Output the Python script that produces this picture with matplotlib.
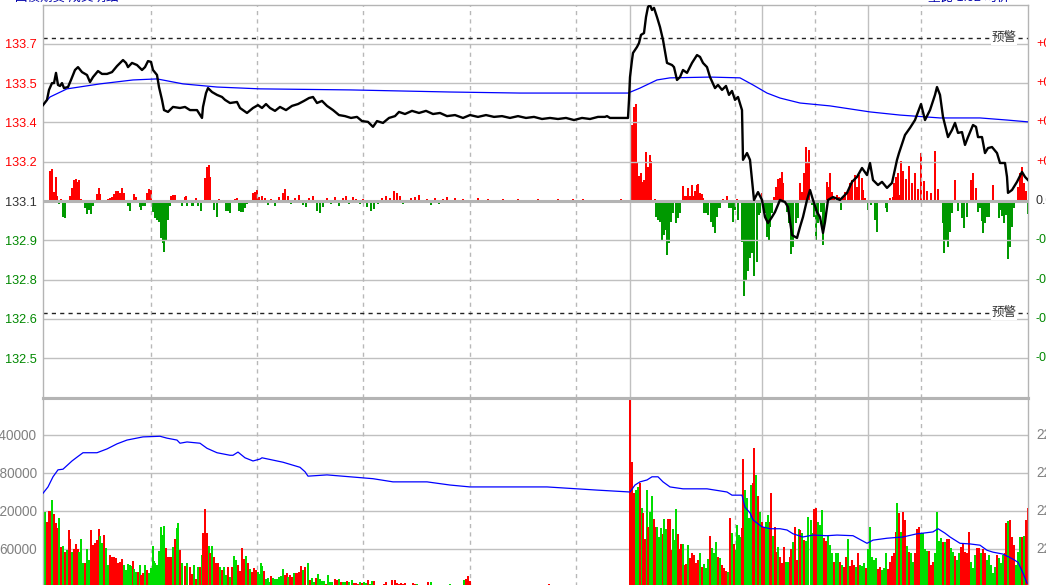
import matplotlib
matplotlib.use('Agg')
import matplotlib.pyplot as plt
from matplotlib.transforms import blended_transform_factory

plt.rcParams['font.family'] = ['Liberation Sans', 'Noto Sans CJK SC', 'DejaVu Sans']

W, H = 1046, 585
base = 133.1
step = 0.15

# price line (minute index, price)
price_t = [0, 4, 6, 9, 11, 13, 15, 17, 19, 21, 25, 28, 32, 35, 39, 44, 47, 50, 55, 59, 64, 69, 74, 80, 83,
           85, 89, 94, 99, 102, 105, 108, 110, 114, 116, 119, 121, 125, 130, 137, 142, 147, 154, 159, 160,
           163, 165, 169, 174, 179, 182, 187, 194, 197, 204, 210, 215,
           219, 223, 227, 232, 237, 243, 249, 255, 261, 266, 270, 274, 279, 284, 290, 296, 302, 308, 314,
           319, 325, 330, 334, 340, 346, 352, 356, 362, 369, 376, 383, 390, 397, 404, 412, 420, 427, 435,
           443, 451, 459, 467, 475, 483, 491, 499, 507, 515, 523, 531, 539, 547, 555, 562, 564, 567, 585,
           586, 587, 589, 590, 594, 596, 598, 601, 603, 605, 607, 609, 611, 614, 617, 620, 624, 629, 631,
           634, 637, 640, 644, 649, 654, 657, 660, 664, 667, 672, 675, 679, 683, 686, 689, 692, 695, 699,
           700, 704, 707, 710, 711, 715, 719, 722, 725, 729, 732, 737, 742, 745, 749, 754, 757, 760, 764,
           767, 770, 774, 777, 780, 782, 785, 790, 797, 804, 809, 814, 819, 824, 827, 830, 835, 839, 844,
           849, 854, 856, 862, 867, 872, 878, 882, 887, 892, 894, 897, 900, 905, 909, 912, 915, 919, 922,
           925, 930, 933, 935, 939, 942, 945, 949, 954, 957, 962, 964, 965, 969, 974, 979, 982, 985]
price_v = [133.466, 133.486, 133.524, 133.550, 133.550, 133.589, 133.543, 133.539, 133.550, 133.531,
           133.535, 133.562, 133.600, 133.611, 133.592, 133.581, 133.554, 133.573, 133.596, 133.585,
           133.585, 133.592, 133.615, 133.638, 133.627, 133.611, 133.627, 133.619, 133.600, 133.611,
           133.634, 133.631, 133.600, 133.581, 133.535, 133.486, 133.447, 133.440, 133.459, 133.455,
           133.459, 133.447, 133.447, 133.417, 133.459, 133.512, 133.531, 133.516, 133.505, 133.497,
           133.486, 133.474, 133.478, 133.455, 133.436, 133.455, 133.466,
           133.455, 133.470, 133.455, 133.444, 133.459, 133.447, 133.463, 133.470, 133.482, 133.493,
           133.497, 133.474, 133.482, 133.463, 133.447, 133.428, 133.424, 133.417, 133.421, 133.405,
           133.402, 133.383, 133.405, 133.398, 133.417, 133.424, 133.440, 133.432, 133.444, 133.436,
           133.444, 133.432, 133.436, 133.424, 133.428, 133.417, 133.428, 133.421, 133.428, 133.421,
           133.424, 133.417, 133.424, 133.417, 133.421, 133.413, 133.417, 133.413, 133.417, 133.409,
           133.417, 133.413, 133.421, 133.421, 133.424, 133.417, 133.417,
           133.486, 133.573, 133.638, 133.665, 133.688, 133.703, 133.734, 133.741, 133.802, 133.841,
           133.848, 133.829, 133.837, 133.802, 133.764, 133.715, 133.627, 133.619, 133.611, 133.562,
           133.573, 133.600, 133.589, 133.627, 133.657, 133.650, 133.627, 133.611, 133.573, 133.531,
           133.543, 133.524, 133.539, 133.505, 133.520, 133.486, 133.497, 133.447, 133.257, 133.283,
           133.257, 133.142, 133.104, 133.134, 133.104, 133.039, 133.016, 133.039, 133.058, 133.104,
           133.096, 133.077, 132.970, 132.959, 133.001, 133.039, 133.104, 133.142, 133.104, 133.058,
           133.039, 132.978, 133.020, 133.104, 133.115, 133.104, 133.131, 133.173, 133.192, 133.226,
           133.199, 133.245, 133.180, 133.161, 133.173, 133.150, 133.169, 133.257, 133.283, 133.352,
           133.379, 133.409, 133.470, 133.409, 133.447, 133.505, 133.535, 133.505, 133.421, 133.344,
           133.371, 133.398, 133.360, 133.363, 133.314, 133.344, 133.390, 133.383, 133.344, 133.344,
           133.283, 133.302, 133.306, 133.283, 133.245, 133.245, 133.192, 133.131, 133.142, 133.173,
           133.211, 133.192, 133.180]

# average price
avg_t = [0, 7, 24, 57, 90, 114, 140, 174, 217, 307, 407, 477, 585, 597, 614, 627, 667, 697, 710, 724,
         737, 757, 787, 827, 857, 897, 937, 964, 985]
avg_v = [133.466, 133.497, 133.528, 133.547, 133.562, 133.566, 133.547, 133.535, 133.528, 133.524,
         133.516, 133.512, 133.512, 133.531, 133.562, 133.570, 133.573, 133.570, 133.543, 133.512,
         133.493, 133.474, 133.463, 133.440, 133.428, 133.417, 133.417, 133.409, 133.402]

# net bars in the price pane
diff_t = [7, 9, 11, 13, 14, 16, 18, 20, 22, 24, 26, 27, 29, 31, 33, 35, 36, 38, 40, 42, 44, 46, 48, 50,
          52, 54, 56, 57, 59, 63, 65, 67, 69, 71, 73, 75, 77, 79, 81, 83, 85, 87, 89, 91, 93, 97, 98, 100,
          102, 104, 106, 108, 110, 112, 114, 116, 118, 120, 121, 123, 125, 127, 128, 130, 132, 135, 139,
          142, 143, 144, 147, 149, 150, 153, 155, 158, 160, 162, 164, 166, 167, 169, 171, 174, 176, 178,
          183, 185, 187, 190, 192, 194, 196, 198, 200, 202, 204, 210, 212, 214, 216,
          219, 222, 225, 228, 232, 236, 240, 242, 245, 248, 252, 256, 260, 263, 266, 270, 274, 277, 280,
          284, 288, 292, 296, 300, 303, 306, 310, 313, 317, 320, 324, 328, 331, 335, 339, 343, 347, 351,
          354, 357, 360, 364, 368, 372, 376, 380, 384, 388, 392, 396, 400, 404, 408, 412, 420, 425, 430,
          435, 440, 445, 450, 455, 460, 465, 470, 475, 480, 485, 490, 495, 500, 505, 510, 515, 520, 525,
          530, 535, 540, 545, 550, 555, 559, 565, 572, 578, 584,
          588, 589, 591, 593, 594, 596, 598, 600, 601, 603, 605, 607, 608, 612, 613, 615, 617, 619, 621,
          623, 624, 626, 628, 630, 633, 635, 637, 640, 642, 644, 645, 647, 649, 650, 652, 654, 655, 657,
          659, 660, 661, 663, 665, 668, 670, 672, 674, 676, 677, 680, 684, 686, 688, 690, 692, 694, 695,
          699, 701, 703, 705, 707, 709, 711, 714, 716, 717, 719, 722, 724, 726, 727, 729, 731, 733, 735,
          737, 739, 740, 744, 746, 748, 750, 753, 755, 757, 759, 761, 763, 765, 766, 769, 771, 773, 775,
          778, 780, 781, 784, 785, 787, 789, 791, 794, 796, 798, 800, 802, 805, 807, 809, 812, 814, 816,
          819, 820, 822, 825, 828, 832, 834, 837, 843, 844, 847, 850, 851, 853, 855, 856, 858, 860, 863,
          866, 869, 872, 875, 878, 881, 884, 888, 892, 895, 900, 901, 903, 905, 907, 909, 912, 915, 919,
          921, 924, 928, 930, 933, 935, 937, 939, 940, 942, 944, 946, 950, 956, 957, 959, 961, 963, 965,
          967, 969, 971, 975, 977, 979, 981, 983, 985]
diff_v = [30, 32, 9, 24, 5, -3, 2, -16, -17, -1, -2, 5, 13, 21, 22, 19, 21, 2, -2, -7, -13, -9, -13, -5,
          1, 7, 13, 7, 1, -2, 2, 3, 4, 7, 10, 10, 8, 13, 8, 1, -5, -10, -1, 7, 4, -6, -9, -5,
          -5, 8, 12, 11, -11, -17, -19, -21, -37, -42, -51, -40, -19, -5, 5, 6, 6, -2, -5,
          4, 5, -5, -2, -5, -5, 3, -5, -10, 1, 23, 34, 36, 24, 1, -9, -16, 2, 1,
          -10, -10, -12, 1, 2, 3, -10, -11, -11, -7, -3, 8, 9, 11, 4,
          5, 3, -4, 2, -5, 4, 8, 12, 5, -3, 3, 6, -4, -6, 3, 5, -10, -12, -6,
          3, -3, 4, -5, 3, 5, -3, 4, 2, -3, 2, -6, -10, -8, -3, 3, 5, 3, 10,
          8, 5, -3, -2, 3, 4, 6, -2, 2, -4, 3, -3, 2, 4, -2, 3, 2, -2, 1,
          3, -1, 2, -2, 1, 2, -1, 1, 2, -2, 1, -1, 2, 1, -2, 1, 2, -1, 1, 2,
          -1, 2, 1, -2, 1, 1, 1, -2, 2, -2,
          65, 76, 94, 97, 39, 25, 28, 19, 21, 49, 34, 46, 40, 2, -16, -19, -21, -39, -34,
          -29, -54, -42, -21, -12, -22, -17, -12, 15, 5, 5, 13, 5, 16, 5, 10, 16, 17, 8,
          7, 3, -12, -12, -14, -21, -26, -32, -16, -7, -7, 2, 5, -7, -7, -21, -9, 2, -19,
          -41, -95, -80, -70, -57, -52, -75, -61, -14, -12, 8, -12, -36, -39, -26, -12, 4, 14, 22,
          23, 29, 18, -11, -22, -53, -46, -22, -17, 18, 9, 28, 54, 39, 51, -4, -16, -40, -22,
          -11, -44, -20, 19, 14, 28, 9, 3, 6, 4, -9, 4, 9, 9, 18, 21, 26, 14, 26,
          23, 11, 3, -9, -4, -19, -31, 1, -7, -11, 3, 4, 18, 24, 28, 6, 40, 30, 22,
          35, 18, 28, 12, 48, 20, 10, 8, 50, 12, -22, -52, -39, -46, -31, -12, 21, -10, -17,
          -27, -16, 21, 28, 13, -11, -7, -20, -32, -22, -16, -16, 16, -17, -9, -15, -22, -14, -58,
          -46, -26, -7, 14, 28, 34, 18, 10, -13]

# volume (thousands) and its colour: 1 up (red), 0 down (green)
vol_t = [2, 4, 6, 7, 9, 11, 13, 14, 16, 18, 20, 22, 24, 26, 27, 29, 31, 33, 35, 36, 38, 40, 42, 44, 46,
         48, 50, 52, 54, 56, 57, 59, 61, 63, 65, 67, 69, 71, 73, 75, 77, 79, 81, 83, 85, 87, 89, 90, 91,
         93, 95, 97, 98, 100, 102, 104, 106, 108, 110, 111, 112, 114, 116, 118, 120, 121, 123, 125, 127,
         129, 130, 132, 134, 135, 137, 139, 142, 144, 147, 149, 151, 153, 155, 157, 159, 160, 162, 164,
         166, 167, 169, 171, 173, 175, 177, 179, 181, 183, 185, 187, 189, 191, 193, 195, 197, 199, 201,
         203, 205, 207, 209, 211, 213, 215, 217, 218, 219, 221, 223, 225, 226, 228, 230, 232, 234, 236,
         238, 240, 242, 244, 245, 247, 249, 251, 253, 255, 256, 258, 260, 262, 265, 267, 269, 271, 273,
         275, 277, 279, 281, 283, 285, 287, 289, 292, 294, 296, 298, 300, 302, 304, 306, 309, 311, 313,
         315, 317, 319, 321, 323, 325, 327, 329, 331, 333, 341, 343, 349, 352, 354, 356, 358, 360, 362,
         366, 370, 372, 374, 378, 385, 388, 399, 403, 407, 418, 421, 423, 425, 427, 506,
         587, 589, 591, 593, 595, 597, 599, 600, 602, 604, 605, 607, 609, 611, 613, 614, 616, 618, 620,
         621, 623, 625, 627, 628, 630, 631, 633, 635, 636, 638, 640, 642, 643, 645, 647, 649, 651, 653,
         655, 657, 659, 661, 663, 665, 667, 669, 671, 673, 675, 677, 679, 681, 683, 685, 687, 689, 691,
         693, 694, 696, 698, 699, 700, 702, 704, 706, 708, 710, 711, 713, 715, 717, 719, 721, 723, 725,
         727, 728, 730, 732, 734, 735, 737, 739, 741, 743, 745, 747, 748, 750, 752, 754, 756, 757, 759,
         761, 763, 765, 768, 770, 771, 773, 775, 777, 779, 781, 783, 785, 787, 789, 791, 793, 795, 797,
         799, 801, 803, 805, 807, 809, 811, 813, 815, 817, 819, 821, 823, 825, 827, 829, 831, 833, 835,
         837, 839, 841, 843, 845, 847, 849, 851, 853, 854, 856, 858, 860, 862, 864, 866, 868, 870, 872,
         874, 876, 878, 880, 882, 884, 886, 888, 890, 892, 894, 896, 898, 900, 902, 904, 906, 908, 910,
         912, 914, 916, 918, 920, 922, 924, 926, 928, 930, 932, 934, 936, 938, 940, 942, 944, 946, 948,
         950, 952, 954, 956, 958, 960, 962, 963, 965, 967, 969, 971, 973, 975, 977, 979, 981, 983, 985]
vol_v = [118, 103, 120, 120, 137, 115, 101, 93, 109, 63, 65, 55, 58, 90, 76, 55, 60, 68, 60, 55, 76, 38,
         38, 60, 43, 90, 66, 70, 74, 92, 81, 70, 82, 62, 35, 51, 47, 47, 46, 38, 40, 44, 35, 27, 36, 35,
         33, 41, 28, 24, 24, 35, 19, 22, 35, 27, 22, 30, 65, 41, 38, 35, 57, 95, 82, 96, 62, 47, 47, 47,
         63, 76, 93, 101, 58, 38, 33, 38, 32, 21, 35, 13, 32, 32, 51, 85, 123, 85, 65, 54, 65, 47, 38, 38,
         32, 27, 32, 19, 32, 16, 32, 49, 43, 35, 25, 62, 44, 49, 38, 28, 24, 30, 27, 24, 20, 38, 33, 25,
         13, 14, 8, 17, 14, 13, 13, 16, 17, 28, 19, 22, 16, 19, 16, 22, 22, 22, 24, 33, 27, 32, 38, 11,
         14, 8, 14, 21, 13, 9, 9, 5, 19, 8, 8, 13, 11, 13, 8, 8, 8, 9, 8, 11, 6, 6, 5, 8, 6, 8, 6, 11, 5,
         9, 9, 3, 5, 8, 11, 11, 6, 5, 6, 5, 6, 3, 6, 5, 5, 3, 8, 8, 3, 3, 5, 3, 11, 13, 17, 9, 5,
         297, 197, 148, 153, 158, 164, 125, 117, 76, 153, 95, 118, 144, 107, 95, 95, 79, 93, 84,
         107, 92, 107, 107, 58, 92, 74, 123, 84, 60, 68, 68, 35, 36, 66, 46, 54, 51, 38,
         43, 54, 32, 36, 30, 44, 81, 62, 54, 71, 47, 46, 35, 30, 25, 24, 109, 85, 68,
         58, 98, 82, 79, 93, 202, 153, 141, 109, 161, 164, 219, 177, 144, 118, 103, 95, 103, 114,
         103, 148, 81, 95, 55, 63, 47, 38, 63, 40, 40, 47, 60, 71, 95, 43, 92, 90, 85,
         74, 73, 111, 106, 85, 123, 125, 103, 98, 122, 77, 73, 81, 66, 54, 40, 54, 54, 40,
         35, 32, 47, 76, 33, 43, 35, 32, 54, 35, 33, 38, 30, 60, 95, 47, 43, 46, 28,
         32, 27, 30, 54, 28, 40, 49, 54, 87, 133, 117, 87, 118, 106, 65, 55, 54, 40, 54,
         92, 95, 85, 85, 60, 57, 57, 35, 40, 54, 118, 73, 77, 71, 71, 76, 76, 62, 55,
         49, 43, 54, 63, 69, 55, 54, 87, 40, 30, 51, 62, 62, 54, 60, 54, 43, 51, 35,
         22, 32, 51, 46, 38, 51, 54, 101, 104, 106, 79, 66, 35, 55, 79, 79, 81, 106, 125]
vol_up = [0, 1, 1, 1, 0, 1, 1, 1, 0, 1, 0, 1, 0, 1, 1, 0, 1, 1, 1, 0, 0, 0, 1, 0, 0,
          1, 1, 1, 1, 1, 0, 0, 1, 0, 0, 1, 1, 1, 1, 1, 1, 1, 0, 0, 0, 0, 0, 1, 0,
          0, 1, 0, 1, 1, 0, 1, 0, 0, 0, 0, 0, 0, 0, 0, 0, 0, 1, 1, 1,
          1, 0, 1, 0, 0, 1, 0, 1, 0, 1, 1, 0, 1, 0, 1, 0, 1, 1, 1,
          0, 1, 0, 1, 1, 1, 0, 1, 0, 0, 1, 0, 1, 0, 0, 1, 1, 1, 1,
          0, 1, 0, 1, 1, 1, 0, 0, 0, 0, 1, 0, 0, 0, 1, 0, 0, 0, 0,
          0, 0, 1, 1, 0, 1, 1, 0, 1, 1, 1, 1, 0, 1, 0, 1, 0, 0, 1,
          0, 0, 0, 0, 1, 0, 0, 0, 1, 1, 0, 1, 0, 0, 1, 0, 0, 1,
          1, 1, 0, 1, 0, 0, 1, 0, 0, 1, 1, 1, 1, 1, 1, 1, 1, 1, 1,
          1, 0, 1, 1, 0, 1, 1, 0, 0, 0, 0, 0, 0, 1, 1, 1,
          1, 1, 1, 1, 0, 0, 1, 0, 1, 1, 0, 1, 0, 0, 1, 1, 0, 0, 0,
          1, 0, 0, 1, 1, 1, 0, 0, 0, 1, 1, 1, 0, 1, 1, 0, 1, 1,
          1, 1, 1, 0, 1, 0, 0, 0, 1, 0, 0, 0, 1, 0, 1, 1, 1, 0, 1,
          0, 1, 0, 0, 0, 0, 1, 1, 0, 0, 0, 0, 1, 1, 0, 1, 0, 1, 1,
          0, 0, 1, 1, 0, 1, 1, 0, 1, 1, 1, 0, 0, 1, 1, 0, 1, 1, 0,
          1, 0, 1, 0, 0, 0, 0, 1, 1, 0, 0, 0, 1, 1, 0, 0, 0, 1, 0,
          0, 1, 0, 1, 1, 0, 1, 1, 1, 0, 1, 0, 0, 0, 1, 0, 0, 0, 0,
          0, 1, 1, 0, 0, 0, 1, 1, 1, 1, 1, 0, 1, 0, 1, 1, 0, 1, 0,
          0, 1, 1, 1, 0, 0, 0, 0, 1, 1, 1, 0, 0, 0, 0, 1, 0, 1, 1,
          0, 0, 1, 0, 0, 1, 1, 1, 1, 1, 0, 0, 0, 1, 1, 0, 1, 1, 0,
          0, 0, 0, 0, 1, 0, 0, 0, 1, 1, 0, 1, 1, 1, 0, 0, 0, 1]

# CJL blue line (thousands)
cjl_t = [0, 5, 10, 15, 20, 29, 34, 40, 54, 64, 74, 84, 100, 117, 124, 134, 137, 144, 157, 164, 174,
         187, 190, 195, 202, 210, 217, 219, 240, 257, 262, 265, 284, 307, 330, 350, 384, 407, 427, 504,
         554, 587, 592, 597, 604, 609, 615, 620, 627, 640, 664, 684, 689, 699, 702, 707, 710, 714, 719,
         727, 737, 744, 750, 760, 770, 784, 794, 810, 824, 830, 844, 860, 874, 880, 890, 895, 902, 907,
         917, 927, 937, 944, 950, 960, 970, 975, 980, 984]
cjl_v = [148, 158, 174, 185, 186, 199, 205, 212, 212, 218, 226, 232, 237, 238, 235, 232, 227, 229, 227,
         219, 212, 208, 208, 213, 204, 199, 202, 204, 197, 189, 182, 175, 177, 174, 171, 166, 166, 161,
         158, 158, 153, 150, 161, 166, 169, 174, 174, 166, 158, 155, 155, 150, 145, 145, 126, 117, 106,
         101, 95, 92, 92, 90, 84, 79, 82, 81, 82, 81, 69, 74, 77, 79, 84, 85, 87, 92, 85, 79, 69, 68, 66,
         58, 55, 52, 44, 39, 22, 6]

left_labels = ['132.5', '132.6', '132.8', '132.9', '133.1', '133.2', '133.4', '133.5', '133.7']
right_labels = ['-0.45%', '-0.34%', '-0.23%', '-0.11%', '0.00%', '+0.11%', '+0.23%', '+0.34%', '+0.45%']
vol_ticks = [60000, 120000, 180000, 240000]
vol_labels = ['60000', '120000', '180000', '240000']
vol_right = ['220300', '221200', '222100', '223000']
warn_hi, warn_lo = 133.722, 132.672
dash_x = [107.7, 214.3, 320.3, 427, 533, 692, 772, 878]
solid_x = [587, 719, 825]
t_end = 985

RED = '#FF0000'
GRID = '#C0C0C0'


def box(x0, y0, x1, y1):
    return [x0 / W, 1 - y1 / H, (x1 - x0) / W, (y1 - y0) / H]


fig = plt.figure(figsize=(W / 100, H / 100), dpi=100)

# bars pane (lower z) and price pane on top
axd = fig.add_axes(box(43, 4.5, 1028, 397.5))
ax = fig.add_axes(box(43, 4.5, 1028, 397.5))
ax.patch.set_visible(False)
axv = fig.add_axes(box(43, 397.5, 1028, 587))

for a in (axd, ax, axv):
    a.set_xlim(0, t_end)
    a.set_xticks([])
    for s in a.spines.values():
        s.set_color('#B4B4B4')
        s.set_linewidth(1)
for s in axd.spines.values():
    s.set_visible(False)
axd.set_yticks([])
axd.set_ylim(-196.5, 196.5)

ax.set_ylim(base - 5 * step, base + 5 * step)
axv.set_ylim(0, 299200)

# grid
levels = [base + k * step for k in range(-4, 5)]
for lv in levels:
    if lv != base:
        ax.axhline(lv, color=GRID, lw=1, zorder=0)
for v in vol_ticks:
    axv.axhline(v, color=GRID, lw=1, zorder=0)
for a in (ax, axv):
    for x in dash_x:
        a.axvline(x, color='#B8B8B8', lw=1, ls=(0, (3, 3)), zorder=0)
    for x in solid_x:
        a.axvline(x, color=GRID, lw=1, zorder=0)
ax.axhline(base, color='#B4B4B4', lw=2.2, zorder=0)
ax.spines['bottom'].set_linewidth(2.2)
axv.spines['top'].set_linewidth(2.2)

# net bars
dcol = [RED if v > 0 else '#009900' for v in diff_v]
axd.bar(diff_t, diff_v, width=1.1, color=dcol, linewidth=0)

# warning lines
for w in (warn_hi, warn_lo):
    ax.axhline(w, color='#222222', lw=1, ls=(0, (3, 3)), zorder=1)
    ax.text(961, w, '预警', ha='center', va='center', fontsize=9, color='#333333',
            bbox=dict(facecolor='white', edgecolor='none', pad=0.5), zorder=2)

# price and average
ax.plot(avg_t, avg_v, color='#0000FF', lw=0.9, zorder=3)
ax.plot(price_t, price_v, color='black', lw=1.7, zorder=4)

# y labels price pane
ax.set_yticks(levels)
ax.set_yticklabels(left_labels, fontsize=9.2)
ax.tick_params(axis='y', length=0, pad=4.5)
for lbl, lv in zip(ax.get_yticklabels(), levels):
    if lv > base + 1e-9:
        lbl.set_color(RED)
    elif lv < base - 1e-9:
        lbl.set_color('#008800')
    else:
        lbl.set_color('#333333')

tr = blended_transform_factory(fig.transFigure, ax.transData)
for lv, s in zip(levels, right_labels):
    c = RED if s.startswith('+') else ('#008800' if s.startswith('-') else '#333333')
    ax.text(1036 / W, lv, s, transform=tr, fontsize=9, color=c, va='center', ha='left',
            clip_on=False)

# volume pane
vcol = [RED if u else '#00DD00' for u in vol_up]
axv.bar(vol_t, [v * 1000 for v in vol_v], width=1.1, color=vcol, linewidth=0, zorder=2)
axv.plot(cjl_t, [v * 1000 for v in cjl_v], color='#0000FF', lw=0.9, zorder=3)
axv.set_yticks(vol_ticks)
axv.set_yticklabels(vol_labels, fontsize=9.8, color='#808080')
axv.tick_params(axis='y', length=0, pad=4.5)
trv = blended_transform_factory(fig.transFigure, axv.transData)
for v, s in zip(vol_ticks, vol_right):
    axv.text(1036 / W, v, s, transform=trv, fontsize=9.8, color='#808080', va='center', ha='left',
             clip_on=False)
axv.text(2, 0.94, 'CJL', transform=axv.get_yaxis_transform(), fontsize=9, color='#333333',
         va='center', ha='left')

# header text cut at the top edge
fig.text(15 / W, 1 - 0.5 / H, '国债期货 成交明细', color='#0000AA', fontsize=9, va='baseline')
fig.text(928 / W, 1 - 0.5 / H, '量比 1.02 均价', color='#0000AA', fontsize=9, va='baseline')

fig.savefig('out.png', dpi=100)
